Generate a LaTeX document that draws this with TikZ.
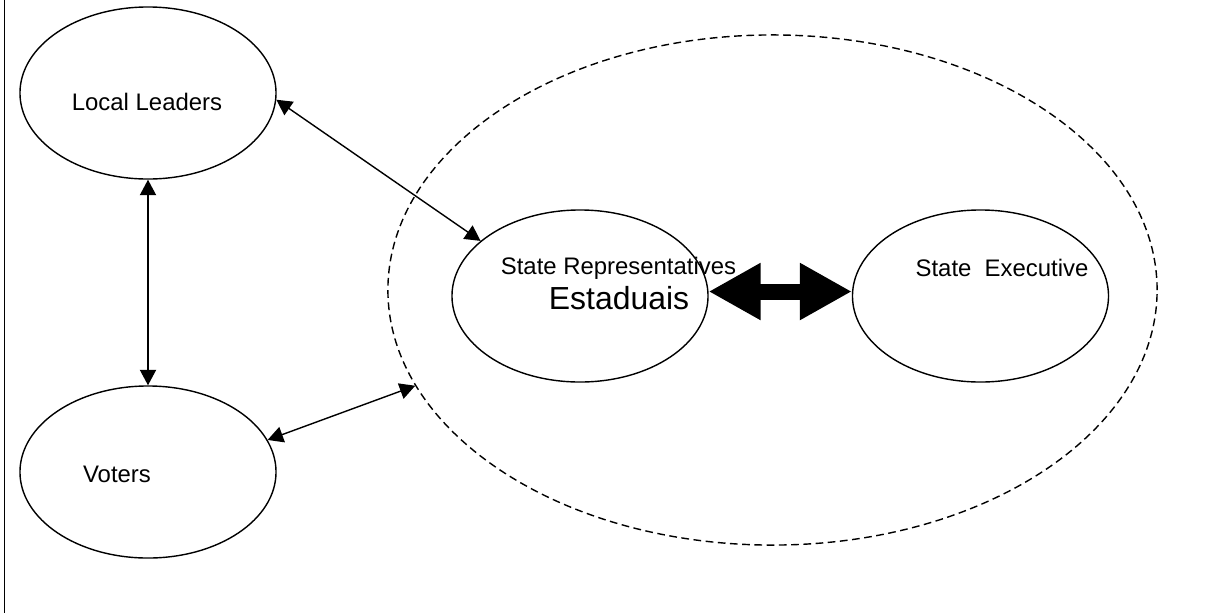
\documentclass[tikz,border=0pt]{standalone}
\usepackage{fontspec}
\setmainfont{Liberation Sans}
\usetikzlibrary{shapes.geometric,arrows.meta}

\tikzset{
  bubble/.style={draw, ellipse, line width=1pt, inner sep=0pt, minimum width=6.4cm, minimum height=4.3cm},
  stategroup/.style={draw, ellipse, dash pattern=on 5.5pt off 3.2pt, line width=1pt, inner sep=0pt, minimum width=19.225cm, minimum height=12.75cm},
  thinarrow/.style={line width=1pt, {Triangle[length=11pt,width=11.5pt]}-{Triangle[length=11pt,width=11.5pt]}},
  fatarrow/.style={line width=11.4pt, {Triangle[length=37pt,width=38pt]}-{Triangle[length=37pt,width=38pt]}},
  lbl/.style={anchor=base, inner sep=0pt, font=\fontsize{17}{20}\selectfont},
  biglbl/.style={anchor=base, inner sep=0pt, font=\fontsize{22.7}{26}\selectfont}
}

\begin{document}
\begin{tikzpicture}[x=0.025cm, y=-0.025cm]
  \useasboundingbox (0,0) rectangle (1209,613);
  \draw[line width=1.4pt] (4.5,0) -- (4.5,613);

  \node[stategroup] (group) at (772.5,290) {};
  \node[bubble] (LL) at (148,93) {};
  \node[bubble] (V) at (148,472) {};
  \node[bubble] (SR) at (580,296) {};
  \node[bubble] (SE) at (980.5,296) {};

  \node[lbl] (LLtext) at (147,110) {Local Leaders};
  \node[lbl] (Vtext) at (117,482) {Voters};
  \node[lbl] (SRtext) at (618.5,274) {State Representatives};
  \node[biglbl] (SRsub) at (619,309) {Estaduais};
  \node[lbl] (SEtext) at (1002,276) {State\ \ Executive};

  \draw[thinarrow] (LL.-3) -- (SR.151);
  \draw[thinarrow] (LL.south) -- (V.north);
  \draw[thinarrow] (V.15) -- (group.195);
  \draw[fatarrow] (SR.2) -- (SE.178);
\end{tikzpicture}
\end{document}
